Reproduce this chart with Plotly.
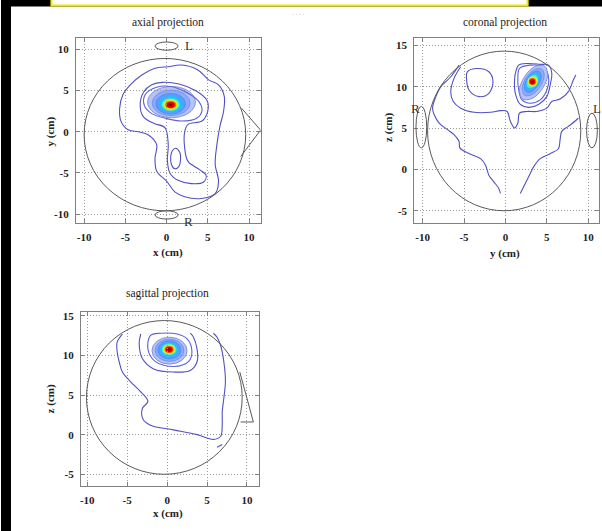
import plotly.graph_objects as go

W, H = 602, 531

# ---------------- data (cm) ----------------
XY_TICKS = [-10, -5, 0, 5, 10]
Z_TICKS = [-5, 0, 5, 10, 15]

# axial projection (x horizontal, y vertical)
AXIAL_HEAD = [-0.2, -0.35, 9.8, 9.25]          # cx, cy, rx, ry
AXIAL_EARS_CX = [0.0, 0.0]
AXIAL_EARS_CY = [10.4, -10.1]
AXIAL_EARS_RX = [1.4, 1.4]
AXIAL_EARS_RY = [0.5, 0.5]
AXIAL_NOSE_X = [9.1, 11.4, 9.0]
AXIAL_NOSE_Y = [2.85, 0.2, -3.0]
AXIAL_C1_X = [0.2, 1.8, 3.8, 5.1, 6.3, 7.0, 6.9, 6.5, 6.1, 5.9, 6.3, 5.9, 4.2, 2.2, 1.0, 0.0,
              -1.2, -1.4, -1.2, -2.2, -3.4, -4.6, -5.5, -5.7, -5.3, -4.4, -3.0, -1.4, 0.2]
AXIAL_C1_Y = [7.9, 8.1, 7.5, 6.3, 5.7, 4.3, 2.4, 0.8, -1.6, -4.0, -6.0, -7.5, -8.1, -7.9, -7.3, -6.0,
              -4.8, -3.2, -1.6, -0.4, 0.0, 0.2, 1.2, 2.8, 4.5, 5.7, 6.9, 7.7, 7.9]
AXIAL_C2_X = [-0.5, 1.5, 3.5, 4.9, 5.0, 4.3, 2.6, 2.2, 2.2, 2.6, 4.0, 4.8, 4.5, 3.0, 1.4, 0.4,
              0.1, 0.2, -0.2, -1.5, -2.8, -3.2, -2.8, -1.8, -0.5]
AXIAL_C2_Y = [6.0, 5.8, 5.0, 3.8, 2.5, 1.3, 0.9, 0.0, -2.0, -3.6, -4.6, -5.3, -6.1, -6.3, -5.9, -5.0,
              -3.5, -1.5, 0.5, 1.0, 1.8, 3.2, 4.8, 5.7, 6.0]
AXIAL_C3_X = [1.1, 1.6, 1.7, 1.5, 1.0, 0.6, 0.5, 0.7, 1.1]
AXIAL_C3_Y = [-2.0, -2.5, -3.4, -4.2, -4.5, -4.0, -3.0, -2.3, -2.0]
AXIAL_C4_X = [-2.6, -1.2, 0.5, 2.2, 3.8, 4.3, 3.6, 1.8, 0.0, -1.8, -2.7, -2.6]
AXIAL_C4_Y = [4.5, 5.4, 5.5, 4.9, 3.8, 2.6, 1.6, 1.3, 1.6, 2.2, 3.2, 4.5]
AXIAL_SPOT_CX = [0.6, 0.55, 0.5, 0.5, 0.5, 0.5, 0.5, 0.5, 0.5, 0.5]
AXIAL_SPOT_CY = [3.6, 3.5, 3.4, 3.35, 3.3, 3.3, 3.3, 3.28, 3.26, 3.25]
AXIAL_SPOT_RX = [2.9, 2.3, 1.8, 1.4, 1.1, 0.9, 0.78, 0.66, 0.5, 0.2]
AXIAL_SPOT_RY = [1.9, 1.55, 1.25, 1.0, 0.78, 0.62, 0.53, 0.45, 0.34, 0.14]

# coronal projection (y horizontal, z vertical)
CORONAL_HEAD = [-0.15, 4.65, 9.25, 9.65]
CORONAL_EARS_CX = [-10.15, 10.45]
CORONAL_EARS_CY = [5.1, 4.7]
CORONAL_EARS_RX = [0.65, 0.65]
CORONAL_EARS_RY = [2.5, 2.1]
CORONAL_L1_X = [-5.6, -6.6, -7.8, -8.4, -8.8, -8.6, -8.0, -7.0, -6.2, -5.6, -5.5, -4.6, -3.0,
                -2.4, -2.0, -1.4, -0.8, -0.6]
CORONAL_L1_Y = [12.6, 11.2, 10.0, 8.8, 7.4, 6.6, 5.6, 4.8, 4.2, 3.4, 2.6, 2.0, 1.3,
                0.5, -0.7, -1.5, -2.3, -2.9]
CORONAL_R1_X = [1.8, 2.2, 2.8, 3.4, 4.2, 5.4, 6.4, 6.6, 6.8, 7.6, 8.6, 8.8]
CORONAL_R1_Y = [-2.9, -2.1, -0.9, 0.3, 1.3, 1.9, 2.5, 3.6, 4.6, 5.2, 6.0, 6.2]
CORONAL_M1_X = [-5.4, -6.2, -6.6, -6.3, -5.4, -3.8, -1.8, -0.6, 0.2, 0.6, 1.1, 1.5, 1.7, 2.6,
                3.8, 5.0, 5.6, 6.6, 7.6, 8.2, 8.5]
CORONAL_M1_Y = [12.4, 11.0, 9.4, 8.2, 7.4, 6.9, 6.9, 7.1, 7.0, 5.8, 5.0, 5.6, 6.8, 7.0,
                7.0, 7.4, 8.2, 8.5, 9.4, 10.8, 11.4]
CORONAL_LOOP_X = [-4.6, -3.4, -2.0, -1.5, -2.0, -3.2, -4.4, -4.7, -4.6]
CORONAL_LOOP_Y = [11.8, 12.2, 11.8, 10.6, 9.2, 8.8, 9.6, 11.0, 11.8]
CORONAL_RA_X = [1.6, 2.6, 4.2, 5.2, 5.6, 5.4, 5.0, 4.0, 2.8, 1.8, 1.2, 1.1, 1.3, 1.6]
CORONAL_RA_Y = [12.6, 12.8, 12.7, 12.6, 11.6, 10.2, 8.8, 7.85, 7.5, 7.85, 9.2, 10.8, 12.0, 12.6]
CORONAL_RB_X = [1.7, 3.0, 4.6, 5.2, 5.0, 4.2, 3.0, 2.0, 1.6, 1.5, 1.7]
CORONAL_RB_Y = [12.2, 12.6, 12.4, 11.2, 9.6, 8.4, 8.0, 8.4, 9.6, 11.0, 12.2]
# tilted rings of the coronal hot spot (outer -> inner), closed polygons
CORONAL_RING_X = [
    [4.71, 3.55, 2.31, 1.70, 2.09, 3.25, 4.49, 5.10, 4.71],
    [4.39, 3.49, 2.51, 2.03, 2.31, 3.21, 4.19, 4.68, 4.39],
    [4.09, 3.40, 2.65, 2.28, 2.51, 3.20, 3.95, 4.32, 4.09],
    [3.88, 3.34, 2.76, 2.49, 2.68, 3.22, 3.80, 4.07, 3.88],
    [3.71, 3.28, 2.83, 2.63, 2.79, 3.22, 3.67, 3.87, 3.71],
]
CORONAL_RING_Y = [
    [12.51, 12.43, 11.21, 9.58, 8.49, 8.58, 9.79, 11.42, 12.51],
    [12.14, 12.06, 11.10, 9.81, 8.96, 9.04, 10.00, 11.29, 12.14],
    [11.82, 11.76, 11.03, 10.04, 9.38, 9.44, 10.18, 11.16, 11.82],
    [11.54, 11.51, 10.96, 10.21, 9.70, 9.73, 10.28, 11.03, 11.54],
    [11.34, 11.33, 10.90, 10.32, 9.92, 9.93, 10.36, 10.94, 11.34],
]
CORONAL_SPOT_CX = [3.3, 3.28, 3.26, 3.25, 3.25]
CORONAL_SPOT_CY = [10.65, 10.63, 10.62, 10.6, 10.6]
CORONAL_SPOT_RX = [0.62, 0.52, 0.43, 0.34, 0.13]
CORONAL_SPOT_RY = [0.62, 0.52, 0.42, 0.33, 0.13]

# sagittal projection (x horizontal, z vertical)
SAGITTAL_HEAD = [-0.35, 4.7, 9.75, 9.7]
SAGITTAL_NOSE_X = [9.1, 10.8, 9.2]
SAGITTAL_NOSE_Y = [7.9, 1.6, 1.6]
SAGITTAL_B_X = [-5.6, -6.25, -6.25, -6.0, -5.6, -4.6, -3.3, -2.4, -3.1, -3.0, -2.1, 0.8, 3.75,
                5.8, 6.7, 6.9, 6.9, 7.1, 7.3, 7.1, 6.7, 6.25, 5.8]
SAGITTAL_B_Y = [12.7, 11.7, 10.4, 9.2, 7.9, 6.7, 5.4, 4.2, 3.3, 1.9, 1.2, 0.6, 0.0,
                -0.6, -0.2, 1.25, 2.9, 4.6, 6.7, 9.2, 11.25, 12.3, 12.8]
SAGITTAL_A_X = [-3.3, -3.5, -3.1, -1.7, 0.8, 2.9, 3.75, 3.75, 3.3, 2.9]
SAGITTAL_A_Y = [12.7, 11.5, 9.6, 8.3, 7.9, 8.1, 9.2, 10.8, 12.3, 12.8]
SAGITTAL_R2_X = [-2.1, -2.4, -1.5, 0.8, 2.7, 3.1, 2.5, 1.25, -0.8, -2.1]
SAGITTAL_R2_Y = [12.5, 10.8, 9.25, 8.6, 9.25, 10.6, 12.1, 12.7, 12.8, 12.5]
SAGITTAL_TICK_X = [6.25, 6.9]
SAGITTAL_TICK_Y = [-1.6, -1.25]
SAGITTAL_SPOT_CX = [0.3, 0.3, 0.28, 0.26, 0.25, 0.25, 0.25, 0.25, 0.25, 0.25]
SAGITTAL_SPOT_CY = [10.6, 10.65, 10.7, 10.72, 10.75, 10.75, 10.75, 10.75, 10.75, 10.75]
SAGITTAL_SPOT_RX = [2.2, 1.8, 1.45, 1.15, 0.92, 0.75, 0.65, 0.55, 0.43, 0.17]
SAGITTAL_SPOT_RY = [1.7, 1.4, 1.15, 0.92, 0.74, 0.6, 0.52, 0.44, 0.35, 0.14]

# ---------------- styles ----------------
SERIF = "Liberation Serif"
LINE_BLUE = "#5150c4"
HEAD_GREY = "#5a5a5a"
SPOT_COLORS = ['#b6c4f5', '#8eaaff', '#5a9cff', '#22bfff', '#4ef0c8',
               '#c4ff3c', '#ffd400', '#ff5a00', '#e00000', '#780000']
SPOT_EDGES = ['#6f7fe0', '#6a8cf0', '#4a8cf0', None, None, None, None, None, None, None]


def px(x):
    return x / W


def py(y):
    return 1 - y / H


fig = go.Figure()
shapes = []
annotations = []


def ax_names(axis):
    return ('x', 'y') if axis == 1 else (f'x{axis}', f'y{axis}')


def add_line(xs, ys, axis, color=LINE_BLUE, width=1.1, spline=True, fill=None):
    xa, ya = ax_names(axis)
    kw = {}
    if fill:
        kw = dict(fill='toself', fillcolor=fill)
    fig.add_trace(go.Scatter(x=xs, y=ys, xaxis=xa, yaxis=ya, mode='lines',
                             line=dict(color=color, width=width,
                                       shape='spline' if spline else 'linear', smoothing=1.0),
                             hoverinfo='skip', showlegend=False, **kw))


def add_ellipse(cx, cy, rx, ry, axis, line_color=HEAD_GREY, fill=None, width=1.0, layer='above'):
    xr, yr = ax_names(axis)
    shapes.append(dict(type='circle', xref=xr, yref=yr, x0=cx - rx, x1=cx + rx,
                       y0=cy - ry, y1=cy + ry, layer=layer,
                       line=dict(color=line_color if line_color else 'rgba(0,0,0,0)',
                                 width=width if line_color else 0),
                       fillcolor=fill if fill else 'rgba(0,0,0,0)'))


def add_spot(cxs, cys, rxs, rys, axis, colors=SPOT_COLORS, edges=SPOT_EDGES, layer='below'):
    for cx, cy, rx, ry, col, edge in zip(cxs, cys, rxs, rys, colors, edges):
        add_ellipse(cx, cy, rx, ry, axis, line_color=edge, fill=col, width=0.8, layer=layer)


# axial
h = AXIAL_HEAD
add_ellipse(h[0], h[1], h[2], h[3], 1)
for cx, cy, rx, ry in zip(AXIAL_EARS_CX, AXIAL_EARS_CY, AXIAL_EARS_RX, AXIAL_EARS_RY):
    add_ellipse(cx, cy, rx, ry, 1)
add_line(AXIAL_NOSE_X, AXIAL_NOSE_Y, 1, color=HEAD_GREY, width=1.0, spline=False)
add_line(AXIAL_C1_X, AXIAL_C1_Y, 1)
add_line(AXIAL_C2_X, AXIAL_C2_Y, 1)
add_line(AXIAL_C3_X, AXIAL_C3_Y, 1)
add_line(AXIAL_C4_X, AXIAL_C4_Y, 1, color='#5d62d8')
add_spot(AXIAL_SPOT_CX, AXIAL_SPOT_CY, AXIAL_SPOT_RX, AXIAL_SPOT_RY, 1)

# coronal
h = CORONAL_HEAD
add_ellipse(h[0], h[1], h[2], h[3], 2)
for cx, cy, rx, ry in zip(CORONAL_EARS_CX, CORONAL_EARS_CY, CORONAL_EARS_RX, CORONAL_EARS_RY):
    add_ellipse(cx, cy, rx, ry, 2)
add_line(CORONAL_L1_X, CORONAL_L1_Y, 2)
add_line(CORONAL_R1_X, CORONAL_R1_Y, 2)
add_line(CORONAL_M1_X, CORONAL_M1_Y, 2)
add_line(CORONAL_LOOP_X, CORONAL_LOOP_Y, 2)
add_line(CORONAL_RA_X, CORONAL_RA_Y, 2)
add_line(CORONAL_RB_X, CORONAL_RB_Y, 2, color='#5d62d8')
ring_edges = ['#6f7fe0', '#6a8cf0', '#4a8cf0', '#22bfff', '#4ef0c8']
for xs, ys, col, edge in zip(CORONAL_RING_X, CORONAL_RING_Y, SPOT_COLORS[:5], ring_edges):
    add_line(xs, ys, 2, color=edge, width=0.8, fill=col)
add_spot(CORONAL_SPOT_CX, CORONAL_SPOT_CY, CORONAL_SPOT_RX, CORONAL_SPOT_RY, 2,
         colors=SPOT_COLORS[5:], edges=[None] * 5, layer='above')

# sagittal
h = SAGITTAL_HEAD
add_ellipse(h[0], h[1], h[2], h[3], 3)
add_line(SAGITTAL_NOSE_X, SAGITTAL_NOSE_Y, 3, color=HEAD_GREY, width=1.0, spline=False)
add_line(SAGITTAL_B_X, SAGITTAL_B_Y, 3)
add_line(SAGITTAL_A_X, SAGITTAL_A_Y, 3)
add_line(SAGITTAL_R2_X, SAGITTAL_R2_Y, 3, color='#5d62d8')
add_line(SAGITTAL_TICK_X, SAGITTAL_TICK_Y, 3, spline=False)
add_spot(SAGITTAL_SPOT_CX, SAGITTAL_SPOT_CY, SAGITTAL_SPOT_RX, SAGITTAL_SPOT_RY, 3)

# L / R marks
lr_font = dict(family=SERIF, size=13, color='#333')
annotations += [
    dict(x=2.75, y=10.5, xref='x', yref='y', text='L', showarrow=False, font=lr_font),
    dict(x=2.6, y=-10.9, xref='x', yref='y', text='R', showarrow=False, font=lr_font),
    dict(x=-10.8, y=7.4, xref='x2', yref='y2', text='R', showarrow=False, font=lr_font),
    dict(x=11.1, y=7.4, xref='x2', yref='y2', text='L', showarrow=False, font=lr_font),
]
for a in annotations:
    a.update(xanchor='center', yanchor='middle')

# titles and axis labels
tfont = dict(family=SERIF, size=11.5, color='#222')
lfont = dict(family=SERIF, size=11, color='#222', weight='bold')
for text, x, y in [('axial projection', 167, 21), ('coronal projection', 505, 21),
                   ('sagittal projection', 167, 293)]:
    annotations.append(dict(x=px(x), y=py(y), xref='paper', yref='paper', text=text,
                            showarrow=False, font=tfont, xanchor='center', yanchor='middle'))
for text, x, y, ang in [('x (cm)', 167, 251, 0), ('y (cm)', 50, 130, -90),
                        ('y (cm)', 505, 252, 0), ('z (cm)', 388, 126, -90),
                        ('x (cm)', 167, 513, 0), ('z (cm)', 50, 398, -90)]:
    annotations.append(dict(x=px(x), y=py(y), xref='paper', yref='paper', text=text,
                            showarrow=False, font=lfont, textangle=ang,
                            xanchor='center', yanchor='middle'))
annotations.append(dict(x=px(298), y=py(11), xref='paper', yref='paper', text='. . . .',
                        showarrow=False, font=dict(family=SERIF, size=7, color='#aaa'),
                        xanchor='center', yanchor='middle'))

# page decorations
shapes += [
    dict(type='rect', xref='paper', yref='paper', x0=0, x1=1, y0=py(4.5), y1=1.01,
         fillcolor='black', line=dict(width=0), layer='below'),
    dict(type='rect', xref='paper', yref='paper', x0=0, x1=px(10), y0=-0.01, y1=1.01,
         fillcolor='black', line=dict(width=0), layer='below'),
    dict(type='rect', xref='paper', yref='paper', x0=px(50.5), x1=px(527.5), y0=py(3.5), y1=1.02,
         fillcolor='white', line=dict(color='#f2e600', width=2), layer='below'),
]


def axis(domain, rng, ticks, anchor):
    return dict(domain=domain, range=rng, anchor=anchor, tickvals=ticks,
                ticktext=[str(t) for t in ticks], showgrid=True, gridcolor='#9a9a9a',
                griddash='1px,2px', gridwidth=1, zeroline=False, showline=True,
                linecolor='#808080', linewidth=1, mirror='ticks', ticks='inside', ticklen=4,
                tickcolor='#808080',
                tickfont=dict(family=SERIF, size=11, color='#222', weight='bold'),
                fixedrange=True)


layout = dict(
    width=W, height=H, margin=dict(l=0, r=0, t=0, b=0),
    paper_bgcolor='white', plot_bgcolor='white', showlegend=False,
    xaxis=axis([px(75), px(260)], [-11.0, 11.4], XY_TICKS, 'y'),
    yaxis=axis([py(222), py(36)], [-11.1, 11.4], XY_TICKS, 'x'),
    xaxis2=axis([px(414), px(599)], [-11.0, 11.3], XY_TICKS, 'y2'),
    yaxis2=axis([py(222), py(36)], [-6.5, 15.9], Z_TICKS, 'x2'),
    xaxis3=axis([px(80), px(258)], [-10.8, 11.45], XY_TICKS, 'y3'),
    yaxis3=axis([py(486), py(311)], [-6.5, 15.5], Z_TICKS, 'x3'),
    shapes=shapes, annotations=annotations,
)
fig.update_layout(**layout)
fig.update_xaxes(ticklabelstandoff=4)
fig.update_yaxes(ticklabelstandoff=4)
fig.write_html("out.html")
